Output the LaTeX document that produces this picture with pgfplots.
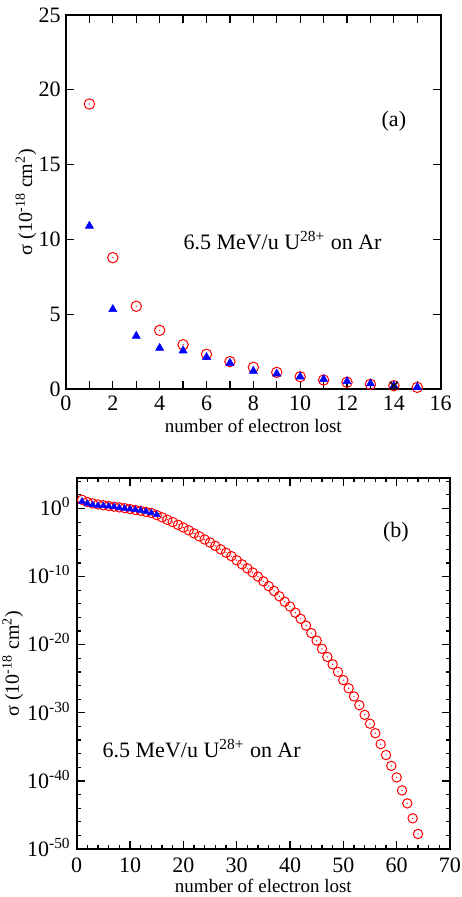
\documentclass[border=0pt]{standalone}
\usepackage{pgfplots}
\pgfplotsset{compat=1.18}
\usepackage{fontspec}
\setmainfont{Liberation Serif}

% open circle with a small filled dot in its centre
\pgfdeclareplotmark{odot}{%
  \pgfpathcircle{\pgfpointorigin}{\pgfplotmarksize}%
  \pgfusepathqstroke
  \pgfpathcircle{\pgfpointorigin}{0.35pt}%
  \pgfusepathqfill}

\newcommand{\tickfont}{\fontsize{11}{13}\selectfont}
\newcommand{\labfont}{\fontsize{10}{12}\selectfont}

\pgfplotsset{
  sigmapanel/.style={
    scale only axis,
    anchor=south west,
    line width=1pt,
    tick style={line width=0.6pt, black},
    tick align=inside,
    major tick length=4pt,
    /pgf/number format/assume math mode=true,
    tick label style={font=\tickfont},
    xticklabel style={inner sep=0pt, anchor=north, yshift=-3pt},
    yticklabel style={inner sep=0pt, anchor=east, xshift=-2.2pt},
    xlabel={number of electron lost},
    ylabel={σ (10\textsuperscript{-18} cm\textsuperscript{2})},
    xlabel style={at={(axis description cs:0.5,0)}, anchor=north,
      inner sep=0pt, yshift=-14.5pt, font=\fontsize{9.5}{11}\selectfont},
  },
}

\begin{document}
\begin{tikzpicture}
\path[use as bounding box] (0,0) rectangle (230.5pt,448.5pt);

% ---------------- (a) linear scale ----------------
\begin{axis}[
  sigmapanel,
  at={(33pt,254pt)},
  width=187.35pt, height=187pt,
  xmin=0, xmax=16, ymin=0, ymax=25,
  xtick={0,2,...,16}, minor xtick={1,3,...,15},
  minor tick length=4pt,
  ytick={0,5,...,25},
  ylabel style={at={([xshift=-20pt]axis description cs:0,0.5)},
    anchor=center, inner sep=0pt, font=\labfont},
]
\addplot[only marks, red, mark=odot, mark size=2.6pt,
  mark options={line width=0.5pt, fill=red}] coordinates {
  (1,19.05) (2,8.78) (3,5.53) (4,3.92) (5,2.96) (6,2.32) (7,1.83) (8,1.45)
  (9,1.11) (10,0.82) (11,0.60) (12,0.45) (13,0.31) (14,0.22) (15,0.11)};
\addplot[only marks, blue, mark=triangle*, mark size=2.3pt,
  mark options={line width=0.3pt}] coordinates {
  (1,10.9) (2,5.33) (3,3.54) (4,2.74) (5,2.56) (6,2.12) (7,1.74) (8,1.20)
  (9,1.02) (10,0.82) (11,0.65) (12,0.51) (13,0.36) (14,0.22) (15,0.12)};
\addplot[only marks, black, mark=x, mark size=2.6pt,
  mark options={line width=0.7pt}] coordinates {(14,0.22)};
\node[anchor=base west, inner sep=0pt, font=\tickfont]
  at (rel axis cs:0.311,0.372) {6.5 MeV/u U\textsuperscript{28+} on Ar};
\node[inner sep=0pt, font=\tickfont] at (rel axis cs:0.875,0.715) {(a)};
\end{axis}

% ---------------- (b) logarithmic scale ----------------
\begin{axis}[
  sigmapanel,
  at={(38.35pt,24pt)},
  width=186.65pt, height=185.5pt,
  xmin=0, xmax=70, ymode=log, ymin=1e-50, ymax=3e4,
  xtick={0,10,...,70}, minor x tick num=4,
  minor tick length=2pt,
  xticklabel style={yshift=-1pt},
  ytick={1e-50,1e-40,1e-30,1e-20,1e-10,1},
  yticklabels={
    10\smash{\textsuperscript{-50}},
    10\smash{\textsuperscript{-40}},
    10\smash{\textsuperscript{-30}},
    10\smash{\textsuperscript{-20}},
    10\smash{\textsuperscript{-10}},
    10\smash{\textsuperscript{0}}},
  yticklabel style={xshift=-0.3pt},
  minor ytick={1e4,1e2,1e-2,1e-4,1e-6,1e-8,1e-12,1e-14,1e-16,1e-18,
    1e-22,1e-24,1e-26,1e-28,1e-32,1e-34,1e-36,1e-38,
    1e-42,1e-44,1e-46,1e-48},
  ylabel style={at={([xshift=-32pt]axis description cs:0,0.5)},
    anchor=center, inner sep=0pt, font=\labfont},
]
\addplot[only marks, red, mark=odot, mark size=2.35pt,
  mark options={line width=0.5pt, fill=red}] coordinates {
  (1,19.05) (2,8.78) (3,5.53) (4,3.92) (5,2.96) (6,2.32) (7,1.83) (8,1.45)
  (9,1.11) (10,0.82) (11,0.60) (12,0.45) (13,0.31) (14,0.22) (15,0.11)
  (16,5.0e-2) (17,2.2e-2) (18,1.0e-2) (19,4.0e-3) (20,1.6e-3)
  (21,6.3e-4) (22,2.2e-4) (23,7.9e-5) (24,2.8e-5) (25,1.0e-5)
  (26,3.2e-6) (27,1.0e-6) (28,3.2e-7) (29,1.0e-7) (30,2.5e-8)
  (31,6.3e-9) (32,1.6e-9) (33,4.0e-10) (34,1.0e-10) (35,2.0e-11)
  (36,4.0e-12) (37,7.9e-13) (38,1.3e-13) (39,2.0e-14) (40,4.0e-15)
  (41,5.0e-16) (42,6.3e-17) (43,6.3e-18) (44,5.0e-19) (45,4.0e-20)
  (46,2.5e-21) (47,1.6e-22) (48,1.3e-23) (49,1.0e-24) (50,6.3e-26)
  (51,4.0e-27) (52,2.5e-28) (53,1.3e-29) (54,5.0e-31) (55,2.5e-32)
  (56,1.0e-33) (57,2.5e-35) (58,6.3e-37) (59,1.6e-38) (60,3.2e-40)
  (61,4.0e-42) (62,5.0e-44) (63,3.2e-46) (64,1.6e-48)};
\addplot[only marks, blue, mark=triangle*, mark size=1.9pt,
  mark options={line width=0.3pt}] coordinates {
  (1,10.9) (2,5.33) (3,3.54) (4,2.74) (5,2.56) (6,2.12) (7,1.74) (8,1.20)
  (9,1.02) (10,0.82) (11,0.65) (12,0.51) (13,0.36) (14,0.22) (15,0.12)};
\node[anchor=base west, inner sep=0pt, font=\tickfont]
  at (rel axis cs:0.067,0.247) {6.5 MeV/u U\textsuperscript{28+} on Ar};
\node[inner sep=0pt, font=\tickfont] at (rel axis cs:0.855,0.855) {(b)};
\end{axis}
\end{tikzpicture}
\end{document}
